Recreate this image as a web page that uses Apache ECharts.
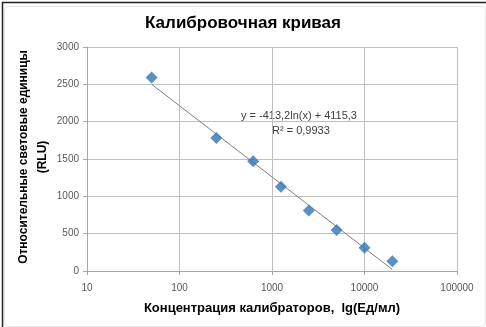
<!DOCTYPE html>
<html>
<head>
<meta charset="utf-8">
<script src="https://cdn.jsdelivr.net/npm/echarts@6/dist/echarts.min.js"></script>
<style>
html,body{margin:0;padding:0;background:#fff;}
#c{width:486px;height:327px;}
</style>
</head>
<body>
<div id="c"></div>
<script>
// Data
const concentrations = [50, 250, 625, 1250, 2500, 5000, 10000, 20000];
const rluValues = [2590, 1780, 1470, 1130, 810, 550, 310, 130];
// Trendline endpoints (logarithmic fit, straight on a log axis)
const trendX = [50, 20000];
const trendY = [2500, 20];
const yTicks = [0, 500, 1000, 1500, 2000, 2500, 3000];
const xTicks = [10, 100, 1000, 10000, 100000];
const titleText = 'Калибровочная кривая';
const xName = 'Концентрация калибраторов,  lg(Ед/мл)';
const yName = 'Относительные световые единицы\n(RLU)';
const eqLine1 = 'y = -413,2ln(x) + 4115,3';
const eqLine2 = 'R² = 0,9933';

const font = '"Liberation Sans", Arial, sans-serif';
const chart = echarts.init(document.getElementById('c'), null, {renderer: 'canvas'});
chart.setOption({
  animation: false,
  backgroundColor: '#fff',
  textStyle: {fontFamily: font},
  title: {
    text: titleText,
    left: 'center',
    top: 10,
    textStyle: {fontSize: 17, fontWeight: 'bold', color: '#000', fontFamily: font}
  },
  grid: {left: 87, right: 29, top: 47, bottom: 56, containLabel: false},
  xAxis: {
    type: 'log',
    logBase: 10,
    min: xTicks[0],
    max: xTicks[xTicks.length - 1],
    name: xName,
    nameLocation: 'middle',
    nameGap: 31,
    nameTextStyle: {fontSize: 13, fontWeight: 'bold', color: '#000', fontFamily: font},
    axisLine: {show: true, lineStyle: {color: '#a6a6a6', width: 1}},
    axisTick: {show: true, length: 4, lineStyle: {color: '#a6a6a6'}},
    axisLabel: {fontSize: 10, color: '#595959', margin: 12, fontFamily: font,
      formatter: v => String(Math.round(v))},
    splitLine: {show: true, lineStyle: {color: '#bfbfbf', width: 1}},
    minorTick: {show: false},
    minorSplitLine: {show: false}
  },
  yAxis: {
    type: 'value',
    min: yTicks[0],
    max: yTicks[yTicks.length - 1],
    interval: 500,
    axisLine: {show: true, lineStyle: {color: '#a6a6a6', width: 1}},
    axisTick: {show: true, length: 4, lineStyle: {color: '#a6a6a6'}},
    axisLabel: {fontSize: 10, color: '#595959', margin: 8, fontFamily: font,
      formatter: v => String(v)},
    splitLine: {show: true, lineStyle: {color: '#bfbfbf', width: 1}}
  },
  series: [
    {
      type: 'line',
      data: trendX.map((x, i) => [x, trendY[i]]),
      symbol: 'none',
      lineStyle: {color: '#7f7f7f', width: 1},
      z: 2,
      silent: true
    },
    {
      type: 'scatter',
      data: concentrations.map((x, i) => [x, rluValues[i]]),
      symbol: 'diamond',
      symbolSize: 12,
      itemStyle: {color: '#2e75b6'},
      z: 3
    }
  ],
  graphic: [
    {
      type: 'rect',
      left: 2, top: 4,
      shape: {width: 481, height: 320, r: 4},
      style: {fill: 'none', stroke: '#e6e6e6', lineWidth: 1},
      silent: true
    },
    {
      type: 'rect',
      left: 0, top: 0,
      shape: {width: 485, height: 326},
      style: {fill: 'none', stroke: '#222', lineWidth: 1.5},
      silent: true
    },
    {
      type: 'text',
      x: 33, y: 157,
      rotation: Math.PI / 2,
      style: {text: yName, font: 'bold 12px ' + font, fill: '#000',
        textAlign: 'center', textVerticalAlign: 'middle', lineHeight: 19}
    },
    {
      type: 'text',
      left: 241, top: 110,
      style: {text: eqLine1, font: '11px ' + font, fill: '#404040'}
    },
    {
      type: 'text',
      left: 272, top: 125,
      style: {text: eqLine2, font: '11px ' + font, fill: '#404040'}
    }
  ]
});
</script>
</body>
</html>
